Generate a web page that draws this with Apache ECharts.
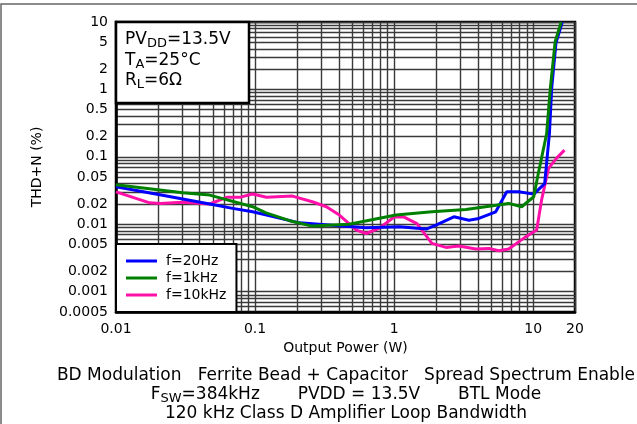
<!DOCTYPE html>
<html><head><meta charset="utf-8">
<script src="https://cdn.jsdelivr.net/npm/echarts@6/dist/echarts.min.js"></script>
<style>html,body{margin:0;padding:0;background:#fff}#c{width:637px;height:424px}</style>
</head><body><div id="c"></div>
<script>
const xTickLabels = [0.01, 0.1, 1, 10, 20];
const yTickLabels = [10, 5, 2, 1, 0.5, 0.2, 0.1, 0.05, 0.02, 0.01, 0.005, 0.002, 0.001, 0.0005];
const seriesNames = ['f=20Hz', 'f=1kHz', 'f=10kHz'];
const seriesColors = ['#0000ff', '#008000', '#ff10a8'];

const power20Hz = [0.01, 0.0231, 0.0472, 0.069, 0.096, 0.121, 0.208, 0.36, 0.63, 1.09, 1.70, 2.0, 2.69, 3.45, 4.07, 5.38, 6.46, 7.87, 10.1, 12.1, 12.5, 13.1, 13.6, 14.6, 16.2];
const thd20Hz   = [0.036, 0.0262, 0.020, 0.0172, 0.0153, 0.0137, 0.0105, 0.0097, 0.0089, 0.0092, 0.0085, 0.0097, 0.0129, 0.0115, 0.0122, 0.0153, 0.0303, 0.0303, 0.028, 0.040, 0.081, 0.225, 1.05, 4.9, 10];

const power1kHz = [0.01, 0.0302, 0.0472, 0.096, 0.120, 0.177, 0.258, 0.475, 1.03, 1.87, 3.28, 6.67, 8.27, 10.1, 10.9, 11.3, 12.5, 13.3, 14.4, 15.9];
const thd1kHz   = [0.0386, 0.0293, 0.0271, 0.0182, 0.0148, 0.0113, 0.0094, 0.0100, 0.0137, 0.0153, 0.0166, 0.0204, 0.0182, 0.0256, 0.057, 0.081, 0.22, 1.05, 5.1, 10];

const power10kHz = [0.01, 0.0175, 0.0207, 0.0302, 0.0472, 0.0625, 0.0774, 0.096, 0.121, 0.186, 0.258, 0.326, 0.404, 0.535, 0.63, 0.78, 1.0, 1.18, 1.46, 1.87, 2.36, 2.92, 3.87, 4.80, 5.66, 6.67, 8.83, 10.6, 11.5, 12.9, 14.7, 16.8];
const thd10kHz   = [0.0303, 0.0208, 0.0204, 0.0213, 0.020, 0.0251, 0.0251, 0.0281, 0.0251, 0.0262, 0.0216, 0.0182, 0.0137, 0.0082, 0.0073, 0.0087, 0.0128, 0.0128, 0.0102, 0.0052, 0.00454, 0.00475, 0.00429, 0.00439, 0.00404, 0.00429, 0.0065, 0.0082, 0.0229, 0.0675, 0.095, 0.126];

const conditionLines = [
  [['PV', 0], ['DD', 1], ['=13.5V', 0]],
  [['T', 0], ['A', 1], ['=25°C', 0]],
  [['R', 0], ['L', 1], ['=6Ω', 0]]
];
const footerLines = [
  [['BD Modulation   Ferrite Bead + Capacitor   Spread Spectrum Enable', 0]],
  [['F', 0], ['SW', 1], ['=384kHz       PVDD = 13.5V       BTL Mode', 0]],
  [['120 kHz Class D Amplifier Loop Bandwidth', 0]]
];

const FONT = 'DejaVu Sans';
function gridValues(lo, hi) {
  const out = [];
  for (let e = -4; e <= 1; e++) {
    for (let m = 1; m <= 9; m++) {
      const v = Number((m * Math.pow(10, e)).toPrecision(6));
      if (v >= lo * 0.999999 && v <= hi * 1.000001) out.push(v);
    }
  }
  return out;
}
const fmt = v => String(Number(Number(v).toPrecision(6)));
const pairs = (xs, ys) => xs.map((x, i) => [x, ys[i]]);

const mctx = document.createElement('canvas').getContext('2d');
function measure(t, size) { mctx.font = size + 'px "' + FONT + '"'; return mctx.measureText(t).width; }
function textLine(segs, x, y, align, mainSize, subSize, subDrop) {
  const widths = segs.map(s => measure(s[0], s[1] ? subSize : mainSize));
  const total = widths.reduce((a, b) => a + b, 0);
  let cx = align === 'center' ? x - total / 2 : x;
  return segs.map((s, i) => {
    const el = {type: 'text', z: 51, x: cx, y: y + (s[1] ? subDrop : 0), silent: true,
      style: {text: s[0], fontFamily: FONT, fontSize: s[1] ? subSize : mainSize, fill: '#000', align: 'left', verticalAlign: 'middle'}};
    cx += widths[i];
    return el;
  });
}

const chart = echarts.init(document.getElementById('c'), null, {renderer: 'canvas'});
const xMin = xTickLabels[0], xMax = xTickLabels[xTickLabels.length - 1];
const yMin = yTickLabels[yTickLabels.length - 1], yMax = yTickLabels[0];

const graphics = [
  {type: 'rect', z: 0, silent: true, shape: {x: 1, y: 4, width: 700, height: 500}, style: {fill: 'none', stroke: '#666', lineWidth: 1.5}},
  {type: 'rect', z: 50, silent: true, shape: {x: 116, y: 22, width: 133, height: 81}, style: {fill: '#fff', stroke: '#000', lineWidth: 2.5}}
];
[40, 60.5, 81].forEach((y, i) => graphics.push(...textLine(conditionLines[i], 125, y, 'left', 17, 13, 4)));
[375.5, 394.5, 414].forEach((y, i) => graphics.push(...textLine(footerLines[i], 346, y, 'center', 17, 13, 4.5)));

chart.setOption({
  animation: false,
  backgroundColor: '#fff',
  textStyle: {fontFamily: FONT},
  grid: {left: 116, right: 62, top: 22, bottom: 112, show: true, borderColor: '#000', borderWidth: 2.5, backgroundColor: 'transparent'},
  xAxis: {
    type: 'log', logBase: 10, min: xMin, max: xMax,
    name: 'Output Power (W)', nameLocation: 'middle', nameGap: 29,
    nameTextStyle: {fontFamily: FONT, fontSize: 14, color: '#000'},
    axisLine: {show: true, lineStyle: {color: '#000', width: 2.5}},
    axisTick: {show: false, customValues: gridValues(xMin, xMax)},
    axisLabel: {customValues: xTickLabels, formatter: fmt, fontFamily: FONT, fontSize: 14, color: '#000', margin: 10},
    splitLine: {show: true, lineStyle: {color: '#3a3a3a', width: 1.4}},
    minorTick: {show: false}, minorSplitLine: {show: false}
  },
  yAxis: {
    type: 'log', logBase: 10, min: yMin, max: yMax,
    name: 'THD+N (%)', nameLocation: 'middle', nameGap: 72, nameRotate: 90,
    nameTextStyle: {fontFamily: FONT, fontSize: 14, color: '#000'},
    axisLine: {show: true, lineStyle: {color: '#000', width: 2.5}},
    axisTick: {show: false, customValues: gridValues(yMin, yMax)},
    axisLabel: {customValues: yTickLabels, formatter: fmt, fontFamily: FONT, fontSize: 14, color: '#000', margin: 8},
    splitLine: {show: true, lineStyle: {color: '#3a3a3a', width: 1.4}},
    minorTick: {show: false}, minorSplitLine: {show: false}
  },
  legend: {
    orient: 'vertical', left: 116, top: 244, padding: [10, 10, 10, 10], itemGap: 3,
    itemWidth: 31, itemHeight: 3, icon: 'rect',
    borderColor: '#000', borderWidth: 2, backgroundColor: '#fff', borderRadius: 0,
    textStyle: {fontFamily: FONT, fontSize: 14, color: '#000', padding: [0, 0, 0, 4]},
    data: seriesNames
  },
  series: [
    {name: seriesNames[0], type: 'line', symbol: 'none', data: pairs(power20Hz, thd20Hz), lineStyle: {width: 3, color: seriesColors[0]}, itemStyle: {color: seriesColors[0]}, z: 3},
    {name: seriesNames[1], type: 'line', symbol: 'none', data: pairs(power1kHz, thd1kHz), lineStyle: {width: 3, color: seriesColors[1]}, itemStyle: {color: seriesColors[1]}, z: 4},
    {name: seriesNames[2], type: 'line', symbol: 'none', data: pairs(power10kHz, thd10kHz), lineStyle: {width: 3, color: seriesColors[2]}, itemStyle: {color: seriesColors[2]}, z: 2}
  ],
  graphic: graphics
});
</script></body></html>
